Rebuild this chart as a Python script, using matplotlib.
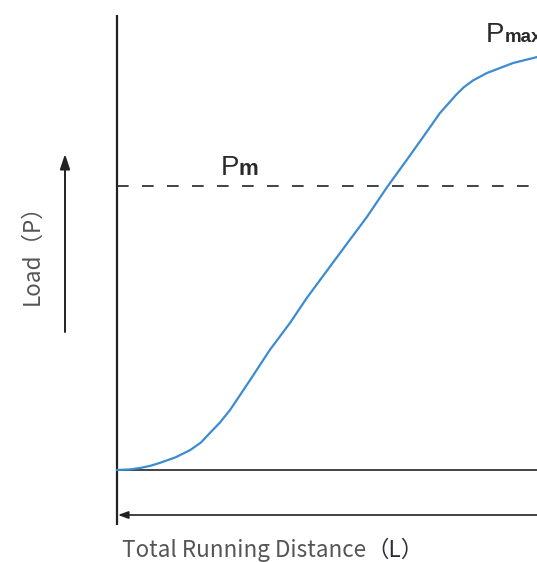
import matplotlib
matplotlib.use("Agg")
import matplotlib.pyplot as plt

# ---- data (distance normalised to 1 at right edge, load normalised to Pm = 1) ----
distance = [0.000, 0.030, 0.055, 0.080, 0.102, 0.140, 0.174, 0.200, 0.221, 0.245, 0.269,
            0.317, 0.364, 0.412, 0.452, 0.531, 0.595, 0.643, 0.690, 0.729, 0.769,
            0.790, 0.808, 0.826, 0.848, 0.881, 0.943, 1.000]
load = [0.000, 0.002, 0.007, 0.015, 0.025, 0.045, 0.070, 0.097, 0.130, 0.167, 0.211,
        0.317, 0.423, 0.518, 0.606, 0.764, 0.891, 0.996, 1.092, 1.173, 1.257,
        1.292, 1.322, 1.348, 1.372, 1.398, 1.433, 1.454]
pm_level = 1.0
labels = {"pm": ("P", "m"), "pmax": ("P", "max")}
xlabel = ("Total Running Distance", "（L）")
ylabel = "Load（P）"

W, H = 537, 562
X0, Y0 = 117, 470          # origin pixel
SX, SY = 420.0, 284.0      # pixels per data unit

def dx(px):
    return (px - X0) / SX

def dy(py):
    return (Y0 - py) / SY

fig = plt.figure(figsize=(W / 100, H / 100), dpi=100)
ax = fig.add_axes([0, 0, 1, 1])
ax.set_xlim(dx(0), dx(W))
ax.set_ylim(dy(H), dy(0))
ax.axis("off")

dark = "#222222"
# vertical axis
ax.plot([0, 0], [dy(15), dy(525)], color=dark, lw=1.6, solid_capstyle="butt")
# baseline
ax.plot([0, 1], [0, 0], color=dark, lw=1.2)
# Pm dashed
ax.plot([0, 1], [pm_level, pm_level], color=dark, lw=1.2,
        dashes=(7.0, 8.0))
# curve
ax.plot(distance, load, color="#3d8bd0", lw=1.6, solid_joinstyle="round")

# horizontal arrow (pointing left)
ax.annotate("", xy=(dx(118), dy(515)), xytext=(1.0, dy(515)),
            arrowprops=dict(arrowstyle="-|>,head_length=0.6,head_width=0.22",
                            color=dark, lw=1.2, shrinkA=0, shrinkB=0))
# vertical arrow (pointing up)
ax.annotate("", xy=(dx(65), dy(154)), xytext=(dx(65), dy(332)),
            arrowprops=dict(arrowstyle="-|>,head_length=0.9,head_width=0.3",
                            color=dark, lw=1.4, shrinkA=0, shrinkB=0))

# P labels
tc = "#2a2a2a"
ax.text(dx(221), dy(175), labels["pm"][0], fontsize=20, family="Liberation Sans",
        color=tc, ha="left", va="baseline")
ax.text(dx(238), dy(175), labels["pm"][1], fontsize=16, family="Liberation Sans",
        color=tc, ha="left", va="baseline", fontweight="bold")
ax.text(dx(486), dy(42), labels["pmax"][0], fontsize=20, family="Liberation Sans",
        color=tc, ha="left", va="baseline")
ax.text(dx(505), dy(42), labels["pmax"][1], fontsize=13.5, family="Liberation Sans",
        color=tc, ha="left", va="baseline", fontweight="bold")

cjk = ["Noto Sans CJK SC", "DejaVu Sans"]
lc = "#555555"
pc = "#2e2e3a"
fs = 16.2
t1 = ax.text(dx(122), dy(557), xlabel[0], fontsize=fs, family=cjk,
             fontweight="light", color=lc, ha="left", va="baseline")
ax.annotate(xlabel[1], xy=(1, 0), xycoords=t1, fontsize=fs, family=cjk,
            fontweight="medium", color=pc, ha="left", va="bottom")

ax.text(dx(44), dy(305), ylabel, fontsize=fs, rotation=90, family=cjk,
        fontweight="light", color=lc, ha="left", va="bottom",
        rotation_mode="anchor")

fig.savefig("out.png", dpi=100)
